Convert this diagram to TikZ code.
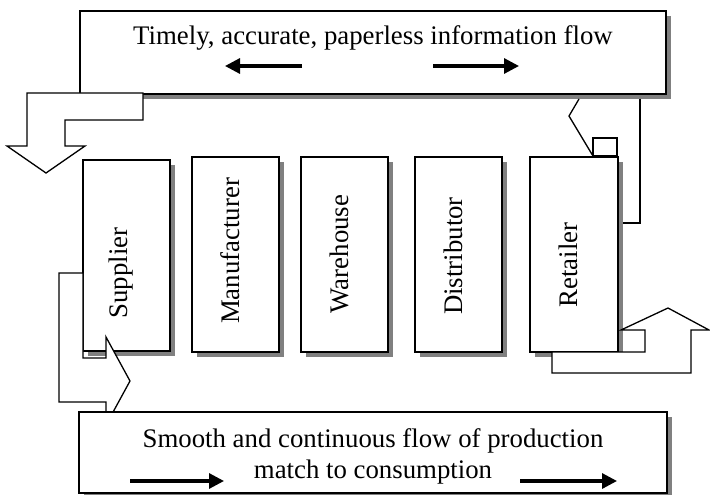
\documentclass[tikz,border=0pt]{standalone}
\usepackage{fontspec}
\setmainfont{Liberation Serif}
\usetikzlibrary{arrows.meta,shadows}
\definecolor{shgray}{RGB}{128,128,128}
\begin{document}
\begin{tikzpicture}[x=1pt,y=-1pt,
  box/.style={draw, line width=1.8pt, fill=white, inner sep=0pt, outer sep=0pt, anchor=north west,
    general shadow={fill=shgray, shadow xshift=5pt, shadow yshift=-5pt}},
  barrow/.style={draw, line width=1.3pt, fill=white, line join=miter},
  thinline/.style={draw, line width=1.3pt},
  flowarrow/.style={line width=3.2pt, -{Triangle[length=15pt,width=15pt]}},
  txt/.style={font=\fontsize{26.8}{31}\selectfont, inner sep=0pt},
  vlabel/.style={txt, rotate=90, anchor=base},
]
\useasboundingbox (0,0) rectangle (710,495);

% information box
\node[box, minimum width=586pt, minimum height=83pt] (info) at (80,11) {};
\node[txt, anchor=base] (infotxt) at (373,45) {Timely, accurate, paperless information flow};
\coordinate (ilA) at (302,66); \coordinate (ilB) at (225,66);
\coordinate (irA) at (433,66); \coordinate (irB) at (519,66);
\draw[flowarrow] (ilA) -- (ilB);
\draw[flowarrow] (irA) -- (irB);

% top-left block arrow
\draw[barrow] (27,93) -- (143,93) -- (143,120) -- (65,120) -- (65,146) -- (85,146)
  -- (46,173) -- (7,146) -- (27,146) -- cycle;

% chain boxes
\node[box, minimum width=87pt, minimum height=191pt] (sup) at (83,160) {};
\node[box, minimum width=87pt, minimum height=195pt] (man) at (192,157) {};
\node[box, minimum width=87pt, minimum height=195pt] (war) at (301,157) {};
\node[box, minimum width=87pt, minimum height=195pt] (dis) at (415,157) {};
\node[box, minimum width=88pt, minimum height=195pt] (ret) at (530,157) {};

\node[vlabel] (suptxt) at (127,273) {Supplier};
\node[vlabel] (mantxt) at (239,251) {Manufacturer};
\node[vlabel] (wartxt) at (348,254) {Warehouse};
\node[vlabel] (distxt) at (462,256) {Distributor};
\node[vlabel] (rettxt) at (577,265) {Retailer};

% bottom-left block arrow
\draw[barrow] (83,273) -- (59,273) -- (59,402) -- (106,402) -- (106,425) -- (130,381)
  -- (106,337) -- (106,358) -- (83,358) -- cycle;

% production box
\node[box, minimum width=588pt, minimum height=81pt] (prod) at (79,412) {};
\node[txt, anchor=base] (prodtxtA) at (373,447) {Smooth and continuous flow of production};
\node[txt, anchor=base] (prodtxtB) at (373,478) {match to consumption};
\coordinate (plA) at (130,481); \coordinate (plB) at (224,481);
\coordinate (prA) at (520,481); \coordinate (prB) at (617,481);
\draw[flowarrow] (plA) -- (plB);
\draw[flowarrow] (prA) -- (prB);

% top-right broken arrow
\draw[thinline] (593,156) rectangle (617,138);
\coordinate (zA) at (579,99); \coordinate (zB) at (569,116); \coordinate (zC) at (593,156);
\draw[thinline] (zA) -- (zB) -- (zC);
\coordinate (vA) at (640,99); \coordinate (vB) at (640,223); \coordinate (vC) at (623,223);
\draw[thinline] (vA) -- (vB) -- (vC);

% bottom-right block arrow
\draw[barrow] (552,352) -- (645,352) -- (645,330) -- (621,330) -- (668,308) -- (709,330)
  -- (691,330) -- (691,373) -- (552,373) -- cycle;
\end{tikzpicture}
\end{document}
